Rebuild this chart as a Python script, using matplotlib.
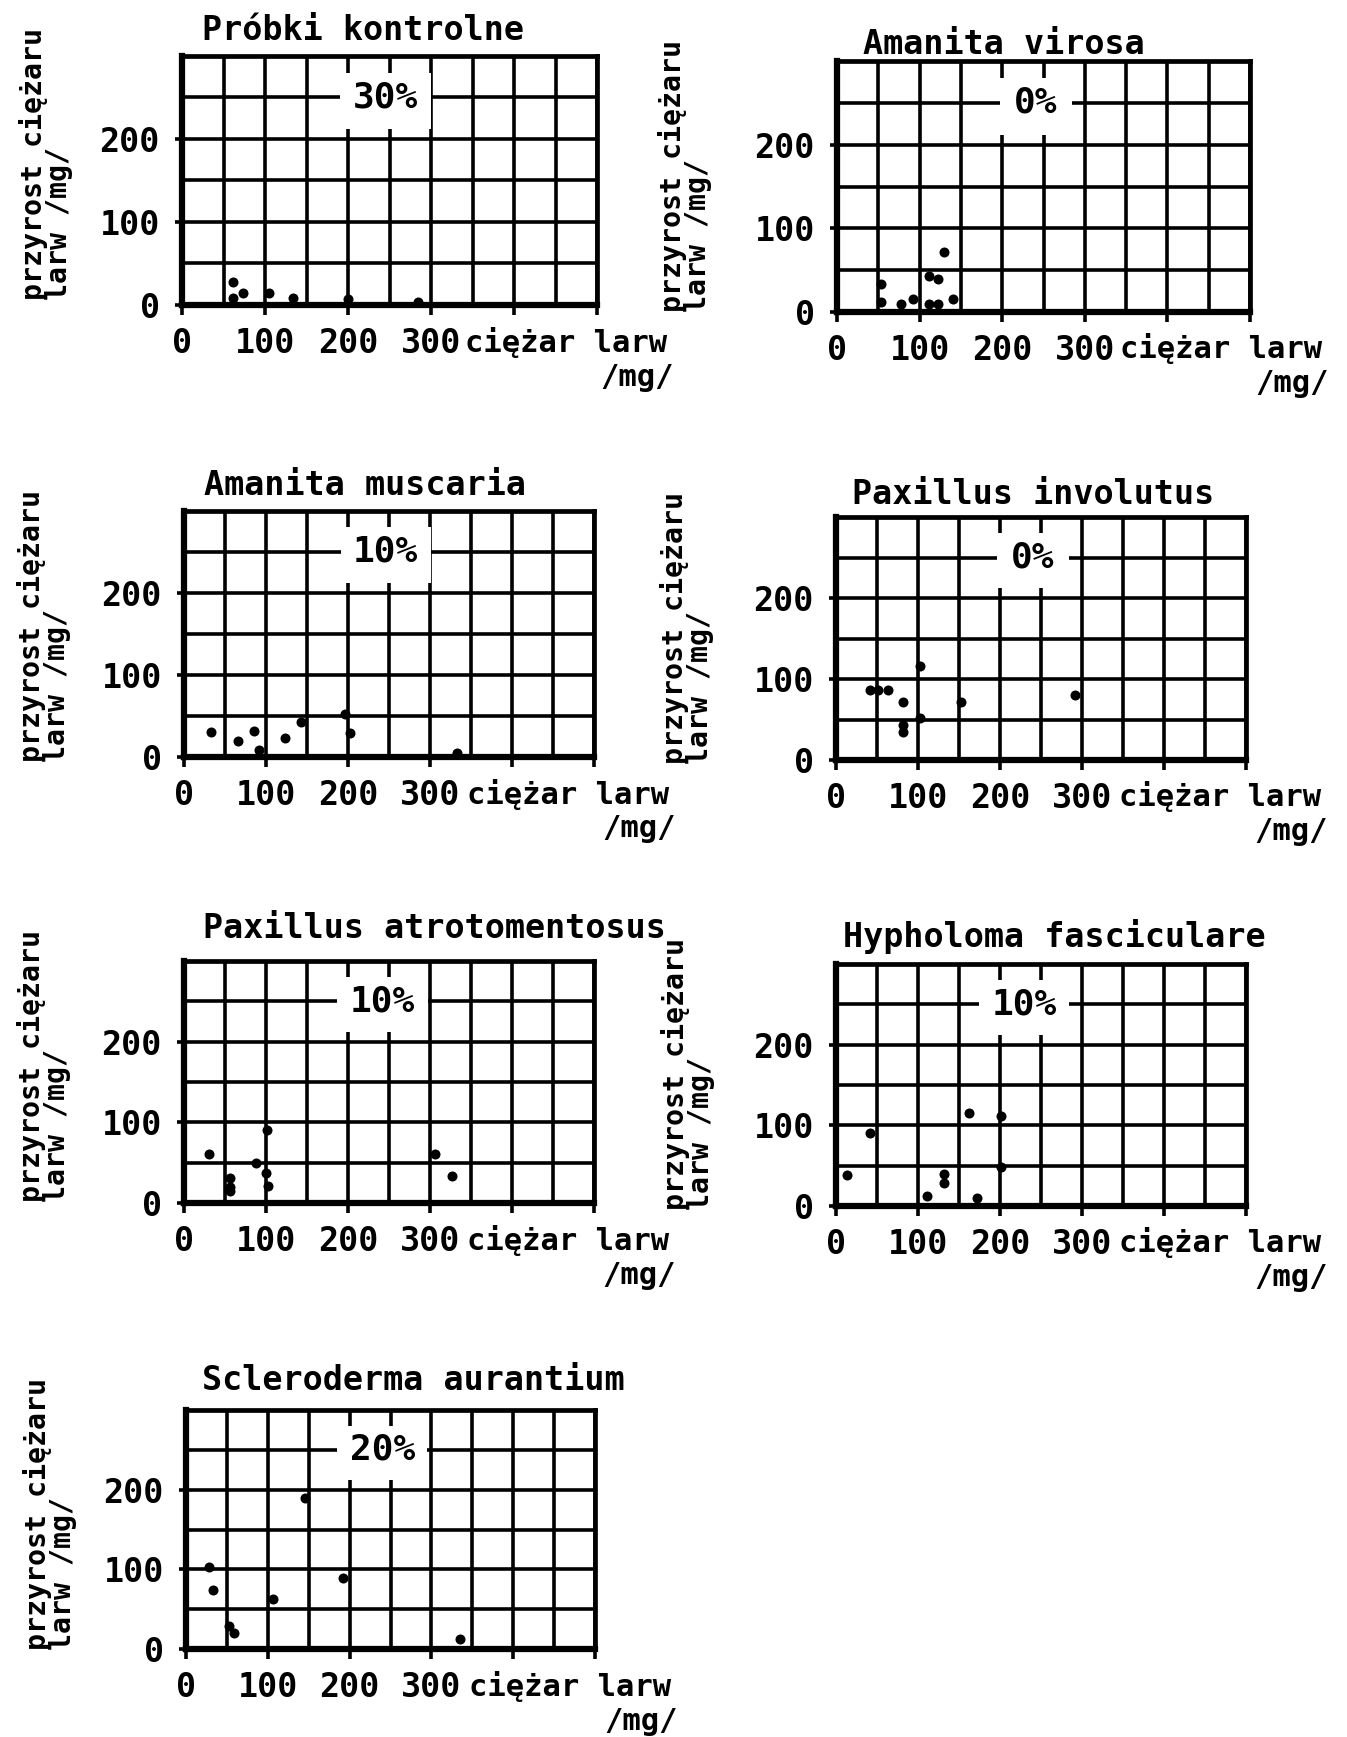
import matplotlib
matplotlib.use("Agg")
import matplotlib.pyplot as plt
from matplotlib.patches import Rectangle

plt.rcParams['font.family'] = ['DejaVu Sans Mono', 'DejaVu Sans']
plt.rcParams['font.weight'] = 'bold'

W, H = 1347, 1737

# ---------------- data ----------------
titles = ["Próbki kontrolne", "Amanita virosa", "Amanita muscaria",
          "Paxillus involutus", "Paxillus atrotomentosus",
          "Hypholoma fasciculare", "Scleroderma aurantium"]
percents = ["30%", "0%", "10%", "0%", "10%", "10%", "20%"]
percent_x = [245, 241, 246, 240, 242, 229, 240]

kontrolne_x = [62, 74, 62, 105, 134, 200, 284]
kontrolne_y = [28, 14, 8, 14, 8, 7, 4]

virosa_x = [53, 53, 77, 92, 111, 122, 129, 111, 122, 140]
virosa_y = [34, 12, 10, 16, 43, 40, 72, 10, 9, 16]

muscaria_x = [33, 66, 85, 91, 123, 143, 196, 203, 333]
muscaria_y = [30, 19, 32, 8, 23, 43, 53, 29, 5]

involutus_x = [42, 51, 63, 82, 82, 82, 102, 102, 153, 291]
involutus_y = [86, 86, 86, 72, 43, 34, 116, 52, 72, 80]

atrotomentosus_x = [30, 56, 56, 56, 88, 101, 100, 102, 306, 327]
atrotomentosus_y = [61, 31, 20, 15, 49, 90, 37, 21, 61, 33]

hypholoma_x = [13, 41, 111, 132, 132, 162, 172, 201, 201]
hypholoma_y = [38, 91, 13, 40, 29, 115, 10, 112, 48]

scleroderma_x = [28, 33, 53, 59, 106, 145, 192, 335]
scleroderma_y = [103, 74, 29, 20, 63, 190, 89, 13]

series_x = [kontrolne_x, virosa_x, muscaria_x, involutus_x,
            atrotomentosus_x, hypholoma_x, scleroderma_x]
series_y = [kontrolne_y, virosa_y, muscaria_y, involutus_y,
            atrotomentosus_y, hypholoma_y, scleroderma_y]

x_ticklabels = ["0", "100", "200", "300", "", ""]
y_ticklabels = ["0", "100", "200"]
ylabel_text = "przyrost ciężaru\nlarw /mg/"
xlabel_text = "ciężar larw"
xunit_text = "/mg/"

# ---------------- layout (figure pixels) ----------------
# left, right, top, bottom of each grid
boxes = [(182, 597, 56, 305), (837, 1250, 61, 312),
         (184, 594, 511, 757), (836, 1246, 517, 760),
         (184, 594, 961, 1203), (836, 1246, 964, 1206),
         (186, 595, 1410, 1649)]
title_pos = [(202, 30), (863, 45), (204, 485), (852, 494),
             (203, 929), (843, 936), (202, 1380)]
ylabel_pos = [(46, 300), (685, 312), (44, 762), (687, 764),
              (44, 1202), (688, 1210), (50, 1650)]

fig = plt.figure(figsize=(W / 100, H / 100), dpi=100)
fig.patch.set_facecolor("white")


def fx(p):
    return p / W


def fy(p):
    return 1 - p / H


for i in range(7):
    l, r, t, b = boxes[i]
    ax = fig.add_axes([fx(l), fy(b), (r - l) / W, (b - t) / H])
    ax.set_xlim(0, 500)
    ax.set_ylim(0, 300)
    ax.set_xticks([0, 100, 200, 300, 400, 500])
    ax.set_xticklabels(x_ticklabels)
    ax.set_yticks([0, 100, 200])
    ax.set_yticklabels(y_ticklabels)
    ax.set_xticks([50, 150, 250, 350, 450], minor=True)
    ax.set_yticks([50, 150, 250], minor=True)
    ax.grid(True, which="both", color="black", linewidth=2.6)
    ax.tick_params(which="minor", length=0)
    ax.tick_params(axis="x", which="major", direction="out", length=7,
                   width=2.6, pad=9, labelsize=24)
    ax.tick_params(axis="y", which="major", direction="out", length=5,
                   width=2.6, pad=11, labelsize=24)
    for lab in ax.get_yticklabels():
        lab.set_fontweight("bold")
    for lab in ax.get_xticklabels():
        lab.set_fontweight("bold")
    for s in ax.spines.values():
        s.set_linewidth(3.4)
        s.set_color("black")
    ax.spines["left"].set_linewidth(4.5)
    ax.spines["bottom"].set_linewidth(4.5)

    ax.scatter(series_x[i], series_y[i], s=52, color="black", zorder=5,
               clip_on=False, linewidths=0)

    c = percent_x[i]
    hw = 55 if len(percents[i]) > 2 else 44
    ax.add_patch(Rectangle((c - hw, 212), 2 * hw, 68, facecolor="white",
                           edgecolor="none", zorder=3))
    ax.text(c, 250, percents[i], ha="center", va="center", fontsize=26,
            fontweight="bold", zorder=4)

    # titles and labels
    tx, ty = title_pos[i]
    fig.text(fx(tx), fy(ty), titles[i], ha="left", va="center",
             fontsize=24, fontweight="bold")
    lx, lb = ylabel_pos[i]
    fig.text(fx(lx), fy(lb), ylabel_text, rotation=90, ha="center",
             va="bottom", multialignment="left", fontsize=20.3,
             fontweight="bold", linespacing=0.9)
    fig.text(fx(l + 283), fy(b + 37), xlabel_text, ha="left", va="center",
             fontsize=22, fontweight="bold")
    fig.text(fx(l + 492), fy(b + 72), xunit_text, ha="right", va="center",
             fontsize=22, fontweight="bold")

fig.savefig("out.png", dpi=100, facecolor="white")
